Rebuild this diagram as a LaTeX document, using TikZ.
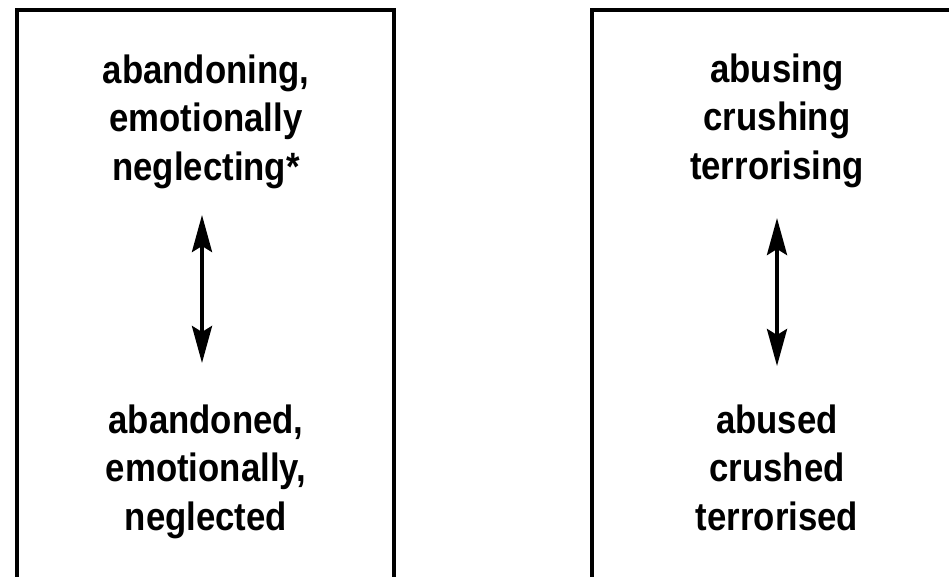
\documentclass[tikz,border=0pt]{standalone}
\usepackage{fontspec}
\setmainfont{Liberation Sans}[FakeStretch=0.88]
\usetikzlibrary{arrows.meta}
\begin{document}
\begin{tikzpicture}[x=1pt,y=-1pt,
  panel/.style={draw=black,line width=4pt},
  label/.style={align=center,inner sep=0pt,anchor=base,
    font=\fontsize{39.5}{48.5}\selectfont\bfseries},
  link/.style={line width=4pt,{Stealth[length=37pt,width=20pt,inset=6pt]}-{Stealth[length=37pt,width=20pt,inset=6pt]}}
]
  \useasboundingbox (0,0) rectangle (949,576);
  \fill[white] (0,0) rectangle (949,576);
  \clip (0,0) rectangle (949,576);

  % two panels, both running off the lower edge
  \draw[panel] (16.5,9.5) rectangle (393.5,620);
  \draw[panel] (592,9.5) rectangle (966,620);

  % left panel (node base = baseline of the last line)
  \node[label] (ltop) at (206,180) {abandoning,\\emotionally\\neglecting*};
  \node[label] (lbot) at (206,530) {abandoned,\\emotionally,\\neglected};
  \coordinate (lup) at (202,215);
  \coordinate (ldn) at (202,363);
  \draw[link] (lup) -- (ldn);

  % right panel
  \node[label] (rtop) at (777,179) {abusing\\crushing\\terrorising};
  \node[label] (rbot) at (777,530) {abused\\crushed\\terrorised};
  \coordinate (rup) at (777,218);
  \coordinate (rdn) at (777,366);
  \draw[link] (rup) -- (rdn);
\end{tikzpicture}
\end{document}
